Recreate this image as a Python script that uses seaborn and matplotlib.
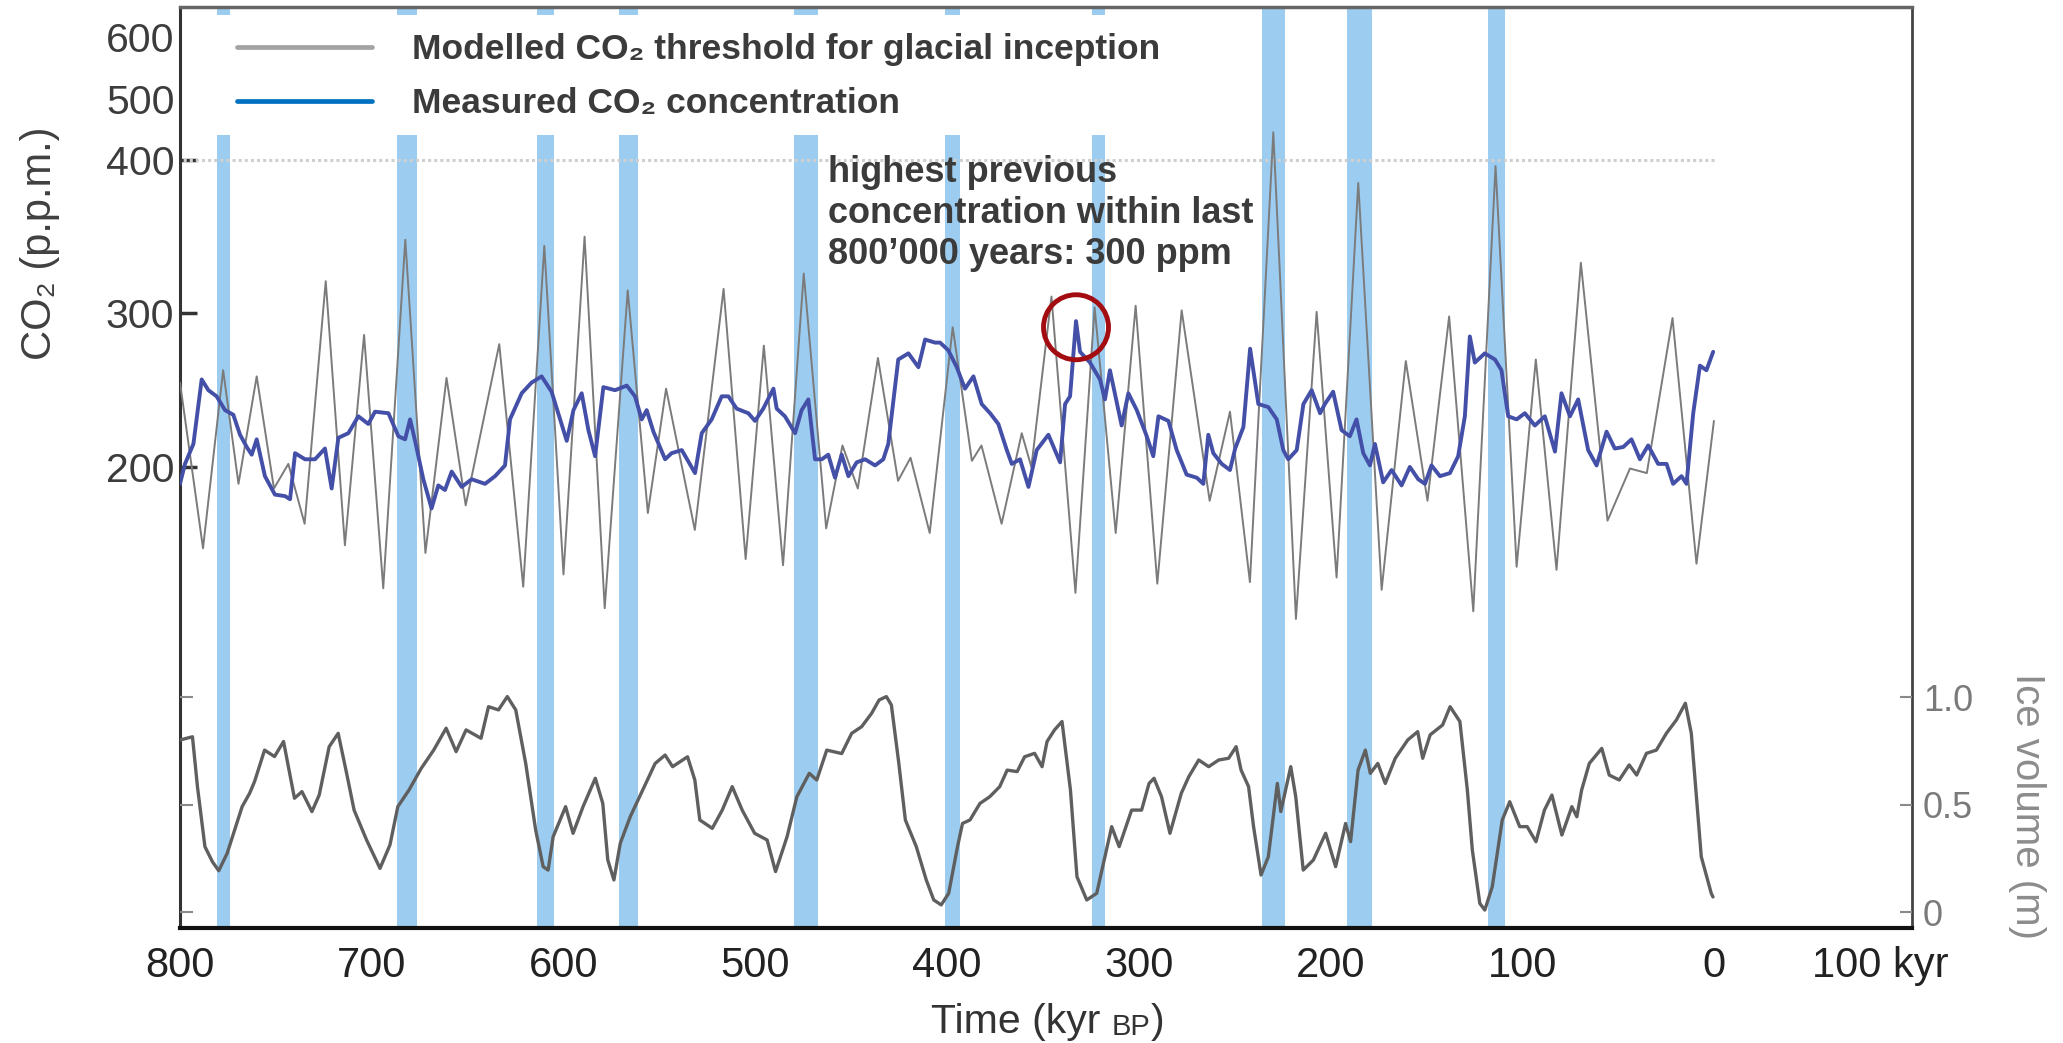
import numpy as np
import pandas as pd
import matplotlib
matplotlib.use("Agg")
import matplotlib.pyplot as plt
import seaborn as sns
from matplotlib.lines import Line2D
from matplotlib.patches import Rectangle

# ---------------- data (kyr BP, values) ----------------
gray_t = [800, 788, 777.5, 769.5, 760, 751, 743.5, 735, 724, 714, 704, 694, 682.5, 672, 661, 651,
          633.5, 621, 610, 600, 589, 578.5, 566.5, 556, 546.5, 531.5, 516.5, 505, 495.5, 485.5,
          474.7, 463, 454.5, 446.5, 436, 425.5, 419, 409, 397, 387, 382, 371.5, 361, 356, 345.5,
          333, 323, 312, 301.6, 290.3, 277.6, 263, 252.4, 242, 229.8, 218, 207.2, 196.8, 185.5,
          173.3, 160.7, 149.4, 138.1, 125.5, 113.9, 102.9, 92.9, 82.1, 69.4, 55.5, 43.8, 35,
          21.6, 9.1, 0]
gray_v = [255, 147, 263, 189, 259, 186, 202, 163, 321, 149, 286, 121, 348, 144, 258, 175,
          280, 122, 344, 130, 350, 108, 315, 170, 251, 159, 316, 140, 279, 136,
          326, 160, 214, 186, 271, 191, 206, 157, 291, 204, 214, 163, 222, 200, 311,
          118, 304, 157, 305, 124, 302, 178, 236, 125, 445, 101, 301, 128, 385,
          120, 269, 178, 298, 106, 396, 135, 270, 133, 333, 165, 199, 196,
          297, 137, 230]

blue_t = [800, 797.4, 793, 788.7, 785.2, 780.9, 776.5, 772.2, 768.7, 765.2, 762.6, 760, 755.7,
          750.5, 745.2, 742.6, 740, 734.8, 729.6, 724.4, 720.9, 717.4, 712.2, 707, 701.8, 698.3,
          691.3, 686.1, 682.6, 680, 677.4, 673.1, 668.8, 665.3, 661.8, 658.3, 653.1, 647.9,
          640.9, 635.7, 630.5, 627.9, 621.8, 616.6, 611.4, 606.2, 604, 598.3, 594.8, 590.5, 587,
          583.5, 579.2, 573.1, 567, 562.7, 559.2, 556.6, 553.1, 547, 543.6, 538.3, 531.4, 527.9,
          522.7, 517.5, 514, 509.7, 503.6, 500.1, 495.8, 490.5, 488.8, 484.5, 479.2, 475.8,
          472.3, 468.8, 465.3, 461.9, 458.4, 454.9, 451.4, 447.1, 442.7, 437.5, 433.2, 430.6,
          425.4, 420.1, 414.9, 411.4, 406.2, 403.6, 399.3, 394.9, 390.6, 386.2, 381.9, 377.5,
          373.2, 368.8, 366.2, 361.9, 357.5, 353.2, 347.1, 341, 338.4, 335.8, 332.7, 330.6,
          325.4, 320.2, 317.6, 315, 308.9, 305.4, 301, 295.8, 292.4, 289.7, 284.5, 280.2, 275,
          269.7, 266.3, 263.7, 261.1, 256.7, 252.4, 249.7, 245.4, 241.9, 237.6, 232.4, 228,
          224.6, 222, 217.6, 214.1, 209.8, 205.4, 202.9, 198.6, 194.2, 189.9, 186.4, 182.9,
          179.4, 176.8, 172.5, 168.1, 162.9, 158.6, 154.2, 150.7, 147.3, 142.9, 137.7, 133.4,
          129.9, 127.3, 124.7, 119.5, 114.2, 110.8, 107.3, 102.9, 98.6, 93.4, 88.2, 82.9, 79.5,
          75.1, 70.8, 65.6, 61.2, 56, 51.7, 47.3, 43, 38.6, 34.3, 29.1, 24.7, 21.3, 16.9, 14.3,
          10.8, 7.3, 3.9, 0.4]
blue_v = [189, 202, 215, 257, 250, 246, 237, 234, 221, 213, 208, 218, 194,
          182, 181, 179, 209, 205, 205, 212, 186, 219, 222, 233, 228, 236,
          235, 220, 218, 231, 217, 192, 173, 188, 185, 197, 187, 192,
          189, 194, 201, 231, 248, 255, 259, 249, 240, 217, 237, 248, 224,
          207, 252, 250, 253, 246, 231, 237, 223, 205, 209, 211, 196, 222,
          231, 246, 246, 238, 235, 230, 238, 251, 238, 233, 222, 237,
          244, 205, 205, 208, 193, 208, 194, 203, 205, 201, 205, 215,
          270, 274, 265, 283, 281, 281, 276, 265, 251, 259, 241, 235,
          228, 211, 202, 205, 187, 211, 221, 203, 241, 246, 295, 275,
          268, 257, 244, 263, 227, 248, 237, 220, 207, 233, 230, 211, 195,
          193, 189, 221, 209, 202, 198, 212, 226, 277, 241, 239, 231,
          211, 205, 211, 241, 250, 235, 241, 249, 224, 220, 231, 209,
          201, 215, 190, 198, 188, 200, 192, 189, 201, 194, 196, 207,
          233, 285, 268, 274, 270, 263, 233, 231, 235, 227, 233, 210, 248,
          233, 244, 211, 201, 223, 212, 213, 218, 205, 214, 202, 202, 189, 194, 189,
          235, 266, 263, 275]

ice_t = [800, 793.5, 790.9, 787, 783.1, 779.8, 775.4, 767.6, 763.7, 761.1, 755.9, 750.7, 746,
         740.3, 736.4, 731.2, 727.4, 722.2, 717.5, 713.1, 709.2, 702.7, 695.7, 690.5, 686.4,
         680.6, 674.2, 667.7, 661.2, 656, 650.8, 643, 639.1, 633.9, 629.3, 624.9, 619.7, 614.5,
         610.6, 608, 605.4, 598.9, 595, 589.8, 583.4, 579.5, 576.9, 573.7, 570.4, 565.2, 558.7,
         552.2, 547, 543.1, 535.3, 531.5, 528.9, 522.4, 517.2, 512, 506.8, 500.3, 493.8, 489.4,
         483.4, 478.3, 471.8, 467.9, 462.7, 454.9, 449.7, 444.5, 439.3, 435.4, 431.6, 429,
         425.1, 421.7, 416, 410.8, 406.9, 403, 399.1, 394.5, 391.9, 388, 382.8, 377.7, 372.5,
         368.6, 363.4, 359.5, 354.3, 350.4, 347.8, 343.9, 340, 335.6, 332.2, 327.1, 321.9, 318,
         314.1, 310.2, 303.7, 298.5, 294.6, 292, 288.1, 283.7, 277.8, 273.9, 268.7, 263.5,
         258.3, 253.1, 249.2, 246.6, 242.7, 240.1, 236.2, 232.4, 227.7, 225.9, 220.7, 218.1,
         214.2, 208.9, 202.5, 197.3, 192.1, 189.5, 185.6, 181.8, 179.2, 175.3, 171.4, 166.2,
         159.7, 154.5, 151.9, 148, 141.5, 137.6, 132.5, 128.6, 126, 122.1, 119.5, 115.6, 110.4,
         106.5, 101.3, 97.4, 92.8, 88.4, 84.5, 79.3, 74.1, 71.5, 69, 65, 58.5, 54.6, 49.4,
         44.2, 40.3, 35.2, 30, 24.8, 19.6, 14.9, 11.8, 6.6, 1.4, 0.5]
ice_v = [0.80, 0.815, 0.583, 0.304, 0.234, 0.192, 0.273, 0.490, 0.552, 0.607, 0.753, 0.723, 0.793,
         0.529, 0.560, 0.467, 0.544, 0.769, 0.831, 0.645, 0.474, 0.335, 0.203, 0.312, 0.490,
         0.567, 0.668, 0.753, 0.855, 0.746, 0.847, 0.808, 0.955, 0.940, 1.002, 0.940, 0.691, 0.381,
         0.211, 0.195, 0.350, 0.490, 0.366, 0.490, 0.622, 0.505, 0.242, 0.149, 0.319, 0.443, 0.567,
         0.691, 0.730, 0.676, 0.722, 0.614, 0.428, 0.389, 0.474, 0.583, 0.474, 0.366, 0.335, 0.188,
         0.350, 0.536, 0.645, 0.614, 0.753, 0.737, 0.831, 0.862, 0.924, 0.986, 1.002, 0.963,
         0.691, 0.428, 0.304, 0.149, 0.056, 0.033, 0.087, 0.304, 0.412, 0.428, 0.505, 0.536, 0.583,
         0.660, 0.653, 0.722, 0.738, 0.676, 0.793, 0.847, 0.886, 0.567, 0.164, 0.056, 0.087, 0.242,
         0.397, 0.304, 0.474, 0.474, 0.598, 0.622, 0.536, 0.366, 0.552, 0.629, 0.707, 0.676,
         0.707, 0.715, 0.769, 0.660, 0.583, 0.397, 0.172, 0.257, 0.598, 0.467, 0.676, 0.536,
         0.195, 0.242, 0.366, 0.211, 0.412, 0.327, 0.660, 0.753, 0.645, 0.691, 0.598, 0.715,
         0.800, 0.839, 0.715, 0.824, 0.870, 0.955, 0.886, 0.567, 0.288, 0.040, 0.009, 0.118, 0.428,
         0.513, 0.397, 0.397, 0.327, 0.474, 0.544, 0.358, 0.490, 0.443, 0.567, 0.691, 0.761, 0.637, 0.614,
         0.684, 0.637, 0.738, 0.753, 0.831, 0.893, 0.971, 0.831, 0.257, 0.087, 0.07]

band_start = [780.7, 687.0, 614.0, 571.0, 479.7, 401.0, 324.5, 235.7, 191.2, 117.8]
band_end = [774.0, 676.2, 605.0, 561.3, 467.5, 393.2, 317.8, 223.8, 178.5, 109.1]

co2_ticks = [200, 300, 400, 500, 600]
ice_ticks = [0, 0.5, 1.0]
ice_tick_labels = ["0", "0.5", "1.0"]
x_tick_vals = [800, 700, 600, 500, 400, 300, 200, 100, 0, -86.6]
x_tick_labels = ["800", "700", "600", "500", "400", "300", "200", "100", "0", "100 kyr"]
x_minor = [700, 600, 500, 400, 300, 200, 100]
ref_level = 400
highlight_t, highlight_v = 332.7, 291

gray_df = pd.DataFrame({"t": gray_t, "v": gray_v})
blue_df = pd.DataFrame({"t": blue_t, "v": blue_v})
ice_df = pd.DataFrame({"t": ice_t, "v": ice_v})

# ---------------- styling ----------------
sns.set_theme(style="white")
plt.rcParams["font.family"] = ["Liberation Sans", "DejaVu Sans"]

W, H = 2063, 1043
fig = plt.figure(figsize=(W / 100, H / 100), dpi=100)
L, R, T, B = 180, 1912, 7, 928
ax = fig.add_axes([L / W, 1 - B / H, (R - L) / W, (B - T) / H])


def fwd(v):
    v = np.asarray(v, float)
    return np.where(v <= 400, v, 400 + (v - 400) * 0.4)


def inv(t):
    t = np.asarray(t, float)
    return np.where(t <= 400, t, 400 + (t - 400) / 0.4)


ax.set_yscale("function", functions=(fwd, inv))
ax.set_xlim(800, -103.3)
ax.set_ylim(-100.3, 649)

band_color = "#9ccdf0"
for s, e in zip(band_start, band_end):
    ax.axvspan(e, s, color=band_color, lw=0, zorder=1)

# white legend background
ax.add_patch(Rectangle((0, (B - 135) / (B - T)), (1180 - L) / (R - L), (135 - 15) / (B - T),
                       transform=ax.transAxes, facecolor="white", edgecolor="none", zorder=1.5))

ax.hlines(ref_level, 0, 800, colors="#cfcfcf", linestyles=(0, (1, 1)), linewidth=2.2, zorder=2)

sns.lineplot(data=gray_df, x="t", y="v", ax=ax, color="#7b7b7b", linewidth=1.4,
             estimator=None, zorder=3)
sns.lineplot(data=blue_df, x="t", y="v", ax=ax, color="#4450a8", linewidth=2.8,
             estimator=None, zorder=4)
ax.scatter([highlight_t], [highlight_v], s=2190, facecolors="none", edgecolors="#a30d12",
           linewidths=3.5, zorder=6)

ax.set_xlabel("")
ax.set_ylabel("")
ax.set_yticks(co2_ticks)
ax.set_yticklabels([str(v) for v in co2_ticks])
ax.tick_params(axis="y", which="major", direction="in", length=12, width=2.5, color="#333333",
               labelsize=29.5, labelcolor="#3c3c3c", pad=4, left=True, right=False)
ax.yaxis.set_minor_locator(matplotlib.ticker.NullLocator())

ax.set_xticks(x_tick_vals)
ax.set_xticklabels(x_tick_labels)
ax.set_xticks(x_minor, minor=True)
ax.tick_params(axis="x", which="major", length=0, labelsize=30, labelcolor="#222222", pad=13)
ax.tick_params(axis="x", which="minor", direction="in", length=12, width=2, color="#222222",
               top=True, bottom=True)

for side, (c, lw) in {"left": ("#333333", 2.2), "bottom": ("#111111", 3),
                      "top": ("#666666", 2.5), "right": ("#444444", 2)}.items():
    ax.spines[side].set_visible(True)
    ax.spines[side].set_color(c)
    ax.spines[side].set_linewidth(lw)

# ice volume axis
ax2 = ax.twinx()
ax2.set_ylim(-0.0744, 4.2093)
sns.lineplot(data=ice_df, x="t", y="v", ax=ax2, color="#5f5f5f", linewidth=2.4,
             estimator=None)
ax2.set_ylabel("")
ax2.set_xlabel("")
ax2.set_yticks(ice_ticks)
ax2.set_yticklabels(ice_tick_labels)
ax2.tick_params(axis="y", direction="in", length=9, width=1.5, color="#8a8a8a",
                labelsize=26, labelcolor="#7a7a7a", pad=8, left=True, right=True,
                labelleft=False, labelright=True)
for sp in ax2.spines.values():
    sp.set_visible(False)
ax2.grid(False)
ax.grid(False)

# legend
handles = [Line2D([], [], color="#a3a3a3", lw=3.4), Line2D([], [], color="#0070c0", lw=3.4)]
labels = ["Modelled CO₂ threshold for glacial inception", "Measured CO₂ concentration"]
leg = ax.legend(handles, labels, loc="upper left", bbox_to_anchor=(237 / W, 1 - 33 / H),
                bbox_transform=fig.transFigure, frameon=False, borderaxespad=0, borderpad=0,
                handlelength=3.8, handletextpad=1.13, labelspacing=0.6,
                prop={"weight": "bold", "size": 25.5})
for txt in leg.get_texts():
    txt.set_color("#3b3b3b")

# annotation text
fig.text(828 / W, 1 - 155 / H, "highest previous\nconcentration within last\n800’000 years: 300 ppm",
         fontsize=26, fontweight="bold", color="#3b3b3b", ha="left", va="top", linespacing=1.22)

# axis labels
fig.text(40 / W, 1 - 243 / H, "CO₂ (p.p.m.)", rotation=90, ha="center", va="center",
         fontsize=30, color="#404040")
fig.text(2027 / W, 1 - 806 / H, "Ice volume (m)", rotation=270, ha="center", va="center",
         fontsize=29, color="#8c8c8c")
t1 = fig.text(931 / W, 1 - 1033 / H, "Time (kyr ", ha="left", va="baseline", fontsize=29.5,
              color="#333333")
t2 = ax.annotate("BP", xy=(1, 0), xycoords=t1, ha="left", va="bottom", fontsize=21,
                 color="#333333", annotation_clip=False)
ax.annotate(")", xy=(1, 0), xycoords=t2, ha="left", va="bottom", fontsize=29.5,
            color="#333333", annotation_clip=False)

fig.savefig("out.png", dpi=100, facecolor="white")
